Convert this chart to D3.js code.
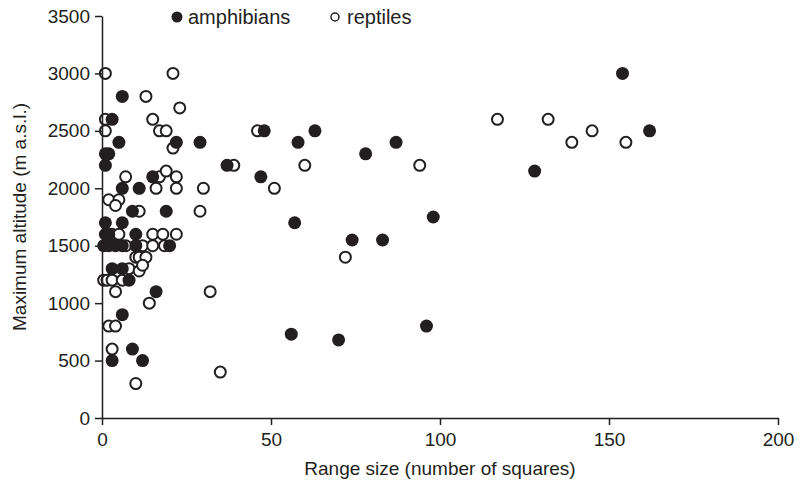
<!DOCTYPE html>
<html>
<head>
<meta charset="utf-8">
<script src="https://cdnjs.cloudflare.com/ajax/libs/d3/7.8.5/d3.min.js"></script>
<style>
  body { margin: 0; background: #fff; }
  svg text { font-family: "Liberation Sans", Arial, Helvetica, sans-serif; fill: #231f20; }
</style>
</head>
<body>
<svg id="svgchart"></svg>
<script>
'use strict'

// amphibians (filled): range size and max altitude
const amphRange = [6, 3, 5, 22, 29, 1, 2, 1, 15, 6, 11, 9, 19, 1, 6, 1, 2, 10, 0.5, 2, 4, 6, 10, 20, 3, 6, 8, 16, 6, 9, 3, 12,
  48, 63, 58, 87, 78, 37, 47, 57, 74, 83, 56, 70, 96, 98, 128, 154, 162]
const amphAlt = [2800, 2600, 2400, 2400, 2400, 2300, 2300, 2200, 2100, 2000, 2000, 1800, 1800, 1700, 1700, 1600, 1600, 1600, 1500, 1500, 1500, 1500, 1500, 1500, 1300, 1300, 1200, 1100, 900, 600, 500, 500,
  2500, 2500, 2400, 2400, 2300, 2200, 2100, 1700, 1550, 1550, 730, 680, 800, 1750, 2150, 3000, 2500]

// reptiles (open)
const reptRange = [1, 21, 13, 23, 1, 15, 1, 17, 19, 21, 7, 17, 19, 22, 16, 22, 30, 2, 5, 4, 11, 29, 3, 5, 15, 18, 22, 7, 12, 15, 18.5, 10, 11, 13, 8, 11, 12, 0.5, 1.5, 3, 6, 4, 32, 14, 2, 4, 3, 10, 35,
  46, 39, 51, 60, 94, 72, 117, 132, 139, 145, 155]
const reptAlt = [3000, 3000, 2800, 2700, 2600, 2600, 2500, 2500, 2500, 2350, 2100, 2100, 2150, 2100, 2000, 2000, 2000, 1900, 1900, 1850, 1800, 1800, 1600, 1600, 1600, 1600, 1600, 1500, 1500, 1500, 1500, 1400, 1400, 1400, 1300, 1280, 1330, 1200, 1200, 1200, 1200, 1100, 1100, 1000, 800, 800, 600, 300, 400,
  2500, 2200, 2000, 2200, 2200, 1400, 2600, 2600, 2400, 2500, 2400]

const xTicks = [0, 50, 100, 150, 200]
const yTicks = [0, 500, 1000, 1500, 2000, 2500, 3000, 3500]

const ink = '#231f20'
const margins = {top: 16, right: 28, bottom: 71, left: 102}
const width = 806, height = 489
const chartWidth = width - margins.left - margins.right
const chartHeight = height - margins.top - margins.bottom

const x = d3.scaleLinear().domain([0, 200]).range([0, chartWidth])
const y = d3.scaleLinear().domain([0, 3500]).range([chartHeight, 0])

const svg = d3.select('#svgchart')
  .attr('width', width)
  .attr('height', height)
const g = svg.append('g')
  .attr('transform', 'translate(' + margins.left + ',' + margins.top + ')')

// points: reptiles first, amphibians on top
const reptiles = reptRange.map((r, i) => ({r: r, a: reptAlt[i]}))
const amphibians = amphRange.map((r, i) => ({r: r, a: amphAlt[i]}))

g.selectAll('circle.rept')
  .data(reptiles)
  .enter().append('circle')
  .classed('rept', true)
  .attr('cx', d => x(d.r))
  .attr('cy', d => y(d.a))
  .attr('r', 5.5)
  .attr('fill', '#fff')
  .attr('stroke', ink)
  .attr('stroke-width', 2)

g.selectAll('circle.amph')
  .data(amphibians)
  .enter().append('circle')
  .classed('amph', true)
  .attr('cx', d => x(d.r))
  .attr('cy', d => y(d.a))
  .attr('r', 6.5)
  .attr('fill', ink)

// x axis
const xAxis = g.append('g')
  .attr('transform', 'translate(0,' + chartHeight + ')')
  .call(d3.axisBottom(x).tickValues(xTicks).tickFormat(d3.format('')).tickSize(7).tickSizeOuter(0).tickPadding(8))
xAxis.append('text')
  .attr('x', chartWidth / 2)
  .attr('y', 57)
  .attr('text-anchor', 'middle')
  .style('font-size', '19px')
  .text('Range size (number of squares)')

// y axis
const yAxis = g.append('g')
  .call(d3.axisLeft(y).tickValues(yTicks).tickFormat(d3.format('')).tickSize(7).tickSizeOuter(0).tickPadding(5))
yAxis.append('text')
  .attr('transform', 'rotate(-90)')
  .attr('x', -chartHeight / 2)
  .attr('y', -76)
  .attr('text-anchor', 'middle')
  .style('font-size', '19px')
  .text('Maximum altitude (m a.s.l.)')

svg.selectAll('.domain, .tick line')
  .attr('stroke', ink)
  .attr('stroke-width', 1.5)
svg.selectAll('.tick text')
  .style('font-size', '19px')
  .attr('fill', ink)

// legend
const legend = svg.append('g').attr('transform', 'translate(0,17)')
legend.append('circle').attr('cx', 177).attr('cy', 0).attr('r', 5.5).attr('fill', ink)
legend.append('text').attr('x', 188).attr('y', 7).style('font-size', '20px').text('amphibians')
legend.append('circle').attr('cx', 335).attr('cy', 0).attr('r', 4).attr('fill', '#fff')
  .attr('stroke', ink).attr('stroke-width', 1.5)
legend.append('text').attr('x', 347).attr('y', 7).style('font-size', '20px').text('reptiles')
</script>
</body>
</html>
